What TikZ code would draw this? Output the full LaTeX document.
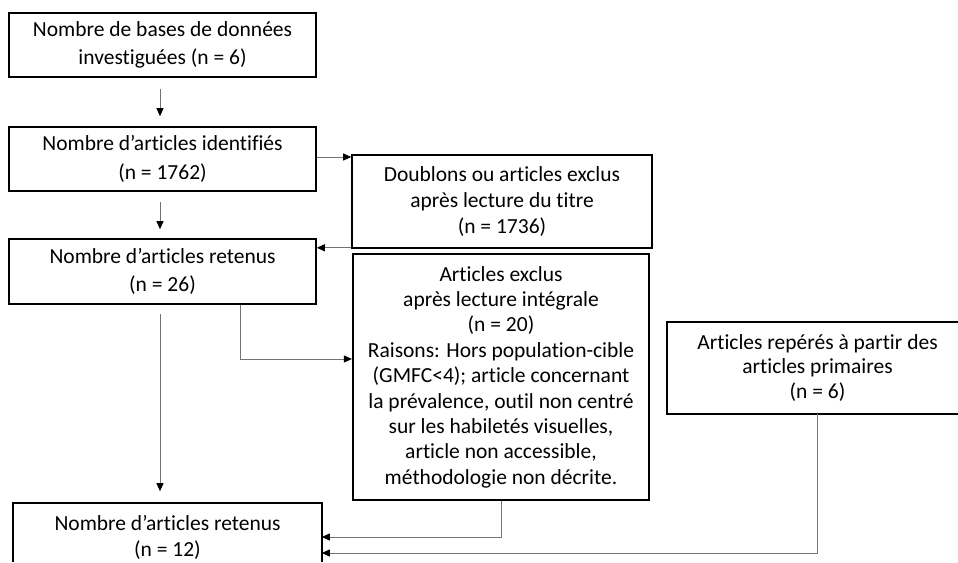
\documentclass[tikz,border=0pt]{standalone}
\usepackage{fontspec}
\setmainfont{Carlito}[Ligatures=NoCommon]
\usetikzlibrary{arrows.meta,calc}
\begin{document}
\begin{tikzpicture}[x=1pt,y=-1pt,
  box/.style={draw=black,line width=1.6pt,align=center,inner sep=0pt,
    font=\fontsize{21.5}{28.5}\selectfont,text=black},
  openbox/.style={box,draw=none},
  conn/.style={draw=black!55,line width=0.9pt,
    -{Triangle[length=8pt,width=7pt,color=black]}}]
\useasboundingbox (0,0) rectangle (958,562);
\coordinate (R) at (958,0);
\coordinate (B) at (0,562);
\node[box,minimum width=307pt,minimum height=64pt] (b1) at (162.5,45)
  {Nombre de bases de données\\investiguées (n = 6)};
\node[box,minimum width=307pt,minimum height=64pt] (b2) at (162.5,159)
  {Nombre d’articles identifiés\\(n = 1762)};
\node[box,minimum width=307pt,minimum height=65pt] (b3) at (162.5,271.5)
  {Nombre d’articles retenus\\(n = 26)};
\node[box,minimum width=300pt,minimum height=93pt,
  font=\fontsize{21.5}{26}\selectfont] (dbl) at (502,201.5)
  {Doublons ou articles exclus\\après lecture du titre\\(n = 1736)};
\node[box,line width=2.2pt,minimum width=296pt,minimum height=246pt,
  font=\fontsize{21.5}{25.4}\selectfont] (excl) at (501,377)
  {Articles exclus\\après lecture intégrale\\(n = 20)\\Raisons: Hors population-cible\\(GMFC<4); article concernant\\la prévalence, outil non centré\\sur les habiletés visuelles,\\article non accessible,\\méthodologie non décrite.};
\node[openbox,minimum width=299pt,minimum height=90pt,
  font=\fontsize{21.5}{24.5}\selectfont] (rep) at (817.5,368)
  {Articles repérés à partir des\\articles primaires\\(n = 6)};
\draw[line width=1.6pt] (rep.north west -| R) -- (rep.north west) -- (rep.south west) -- (rep.south west -| R);
\node[openbox,minimum width=307pt,minimum height=66pt,
  font=\fontsize{21.5}{26}\selectfont] (b12) at (167.5,537)
  {Nombre d’articles retenus\\(n = 12)};
\draw[line width=1.6pt] (b12.south west |- B) -- (b12.north west) -- (b12.north east) -- (b12.south east |- B);
% connectors
\coordinate (p1) at ($(b2.east)+(0,-2)$);
\coordinate (p2) at ($(dbl.south west)+(0,-1)$);
\draw[conn,shorten <=11pt,shorten >=10pt] ($(b1.south)+(-2.5,0)$) -- ($(b2.north)+(-2.5,0)$);
\draw[conn,shorten <=10pt,shorten >=9pt] ($(b2.south)+(-2.5,0)$) -- ($(b3.north)+(-2.5,0)$);
\draw[conn,shorten <=9pt,shorten >=12pt] ($(b3.south)+(-2.5,0)$) -- ($(b12.north)+(-7.5,0)$);
\draw[conn] (p1) -- (p1 -| dbl.west);
\draw[conn] (p2) -- (p2 -| b3.east);
\draw[conn] ($(b3.south west)+(232,0)$) |- ($(excl.west)+(0,-18)$);
\draw[conn] (excl.south) |- ($(b12.east)+(0,0)$);
\draw[conn] (rep.south) |- ($(b12.east)+(0,16)$);
\end{tikzpicture}
\end{document}
